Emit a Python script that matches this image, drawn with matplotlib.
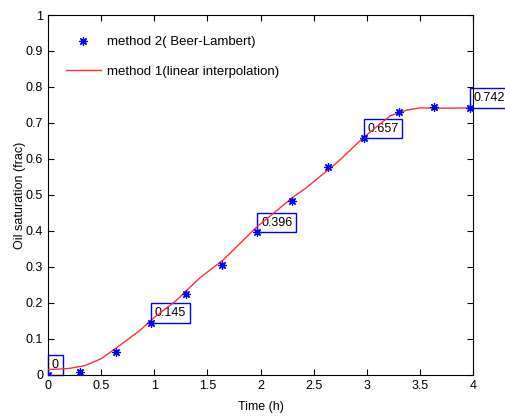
import numpy as np
import matplotlib
matplotlib.use("Agg")
import matplotlib.pyplot as plt

plt.rcParams['font.family'] = ['Liberation Sans Narrow', 'Liberation Sans', 'DejaVu Sans']

# method 2 (Beer-Lambert) points
t_pts = [0, 0.3, 0.64, 0.97, 1.3, 1.64, 1.97, 2.3, 2.63, 2.97, 3.3, 3.63, 3.97]
so_pts = [0.0, 0.008, 0.064, 0.145, 0.225, 0.305, 0.396, 0.484, 0.577, 0.657, 0.731, 0.744, 0.742]

# method 1 (linear interpolation) curve
t_line = [0, 0.1, 0.2, 0.35, 0.5, 0.68, 0.87, 1.0, 1.2, 1.43, 1.65, 1.96, 2.31,
          2.43, 2.72, 2.97, 3.22, 3.38, 3.5, 3.7, 4.0]
so_line = [0.015, 0.016, 0.018, 0.026, 0.045, 0.083, 0.125, 0.16, 0.205, 0.27, 0.32,
           0.41, 0.495, 0.52, 0.59, 0.66, 0.72, 0.736, 0.742, 0.741, 0.742]

# data tips
tip_t = [0, 0.97, 1.97, 2.97, 3.97]
tip_so = [0, 0.145, 0.396, 0.657, 0.742]
tip_txt = ['0', '0.145', '0.396', '0.657', '0.742']

fig = plt.figure(figsize=(5.06, 4.17), dpi=100)
ax = fig.add_axes([0.095, 0.101, 0.84, 0.863])

ax.plot(t_pts, so_pts, linestyle='none', marker=(8, 2, 0), markersize=6,
        color='blue', markeredgewidth=0.9, label='method 2( Beer-Lambert)', zorder=4)
ax.plot(t_line, so_line, color='#ff3030', linewidth=1.0,
        label='method 1(linear interpolation)', zorder=3)

pad = 0.3
for x, y, s in zip(tip_t, tip_so, tip_txt):
    ax.annotate(s, (x, y), xytext=(pad * 9, pad * 9), textcoords='offset points',
                fontsize=9, ha='left', va='bottom', zorder=2, annotation_clip=False,
                bbox=dict(boxstyle='square,pad=%s' % pad, facecolor='white',
                          edgecolor='blue', linewidth=1.0))

ax.set_xlim(0, 4)
ax.set_ylim(0, 1)
ax.set_xticks(np.arange(0, 4.01, 0.5))
ax.set_xticklabels(['0', '0.5', '1', '1.5', '2', '2.5', '3', '3.5', '4'])
ax.set_yticks(np.arange(0, 1.01, 0.1))
ax.set_yticklabels(['0', '0.1', '0.2', '0.3', '0.4', '0.5', '0.6', '0.7', '0.8', '0.9', '1'])
ax.tick_params(direction='in', top=True, right=True, labelsize=9, length=4)
ax.set_xlabel('Time (h)', fontsize=9, labelpad=7)
ax.set_ylabel('Oil saturation (frac)', fontsize=9, labelpad=0)

ax.legend(loc='upper left', frameon=False, fontsize=9.5, handlelength=2.6,
          handletextpad=0.5, labelspacing=1.3, bbox_to_anchor=(0.015, 0.975))

fig.savefig('out.png', dpi=100)
